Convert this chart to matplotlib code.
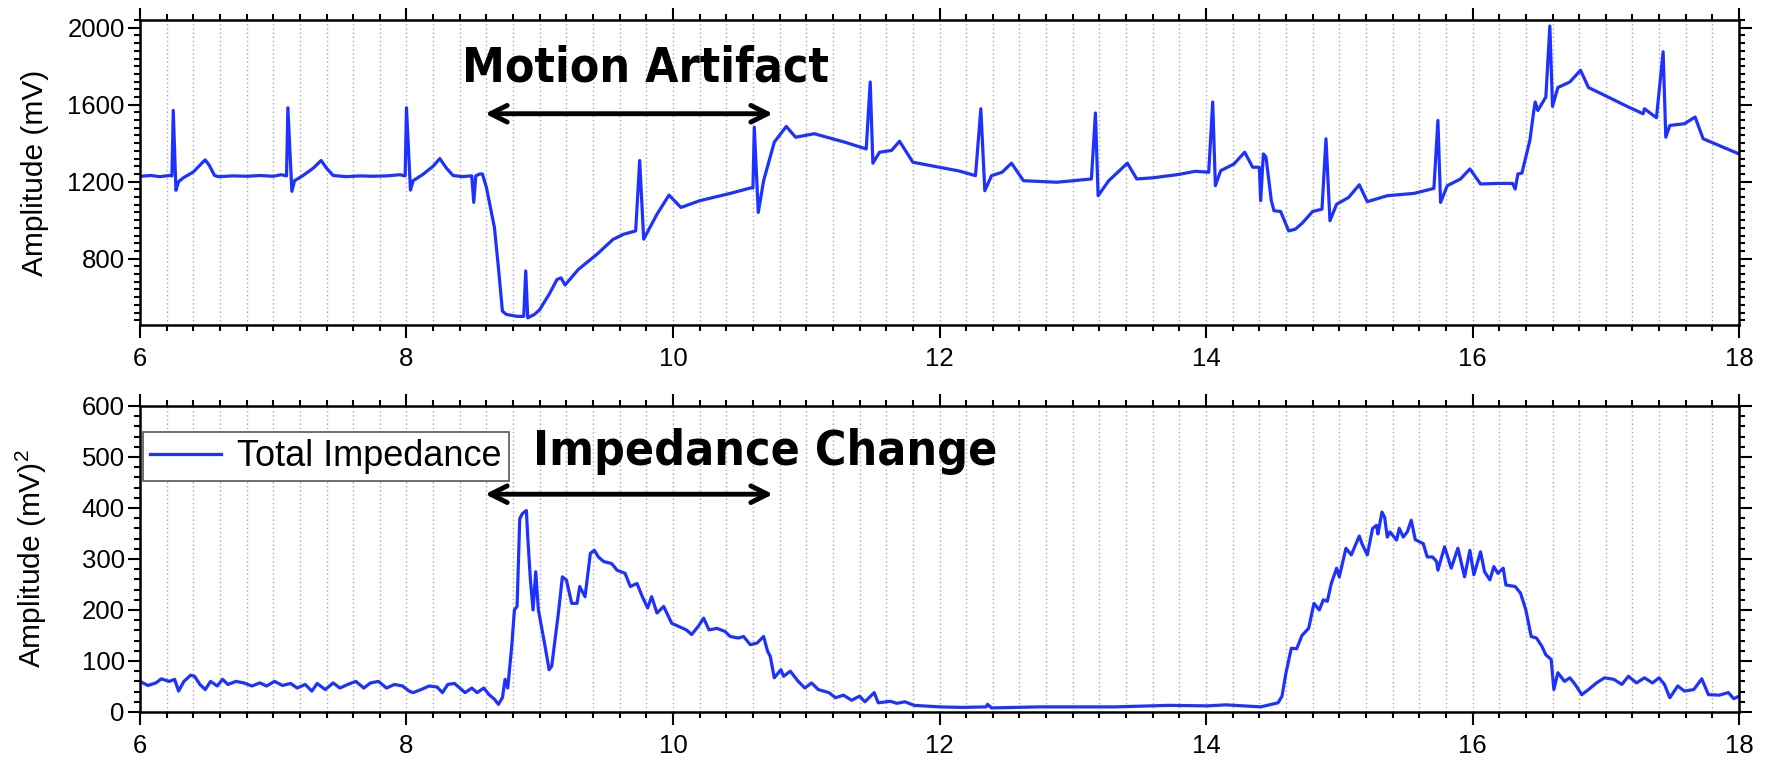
import matplotlib
matplotlib.use("Agg")
import matplotlib.pyplot as plt
from matplotlib.ticker import MultipleLocator

plt.rcParams['font.family'] = ['Liberation Sans', 'DejaVu Sans']

# ECG amplitude (mV) vs time (s)
ecg_t = [6.00, 6.08, 6.15, 6.22, 6.24, 6.25, 6.27, 6.29, 6.33, 6.40, 6.47, 6.49, 6.52, 6.56, 6.59,
         6.70, 6.80, 6.90, 7.00, 7.06, 7.10, 7.11, 7.14, 7.16, 7.22, 7.30, 7.36, 7.40, 7.45,
         7.55, 7.65, 7.75, 7.85, 7.95, 7.99, 8.00, 8.03, 8.05, 8.12, 8.20, 8.25, 8.30, 8.35, 8.42,
         8.48, 8.49, 8.505, 8.52, 8.55, 8.57, 8.60, 8.66, 8.69, 8.72, 8.75, 8.83, 8.88, 8.895, 8.91,
         8.96, 9.00, 9.07, 9.13, 9.16, 9.19, 9.29, 9.43, 9.55, 9.63, 9.72, 9.75, 9.78, 9.88, 9.97,
         10.06, 10.20, 10.43, 10.58, 10.60, 10.61, 10.64, 10.68, 10.76, 10.85, 10.92, 11.06, 11.29,
         11.45, 11.48, 11.50, 11.55, 11.64, 11.70, 11.80, 12.00, 12.15, 12.27, 12.31, 12.34, 12.39,
         12.47, 12.54, 12.63, 12.88, 13.00, 13.14, 13.17, 13.19, 13.27, 13.41, 13.48, 13.60, 13.79,
         13.92, 14.02, 14.05, 14.07, 14.11, 14.21, 14.29, 14.35, 14.40, 14.41, 14.43, 14.45, 14.49,
         14.51, 14.56, 14.62, 14.67, 14.72, 14.80, 14.87, 14.90, 14.93, 14.98, 15.07, 15.15, 15.21,
         15.36, 15.56, 15.71, 15.74, 15.76, 15.81, 15.91, 15.98, 16.06, 16.19, 16.30, 16.32, 16.34,
         16.37, 16.43, 16.46, 16.47, 16.49, 16.55, 16.58, 16.60, 16.64, 16.73, 16.81, 16.87, 16.99,
         17.16, 17.28, 17.29, 17.38, 17.43, 17.45, 17.48, 17.59, 17.67, 17.73, 17.85, 18.00]
ecg_v = [1228, 1232, 1226, 1232, 1230, 1570, 1155, 1200, 1222, 1250, 1300, 1313, 1285, 1232, 1226,
         1230, 1228, 1232, 1228, 1236, 1230, 1584, 1150, 1205, 1230, 1270, 1310, 1270, 1232,
         1226, 1230, 1228, 1230, 1236, 1230, 1584, 1156, 1205, 1236, 1280, 1320, 1270, 1232, 1226,
         1230, 1230, 1092, 1230, 1240, 1240, 1170, 962, 753, 527, 510, 500, 500, 736, 492,
         510, 535, 614, 692, 700, 663, 744, 823, 900, 927, 944, 1310, 901, 1031, 1130,
         1066, 1101, 1139, 1167, 1167, 1483, 1040, 1205, 1405, 1487, 1431, 1449, 1405,
         1370, 1718, 1296, 1353, 1362, 1410, 1301, 1275, 1255, 1231, 1579, 1153, 1231,
         1249, 1296, 1205, 1197, 1205, 1214, 1557, 1127, 1205, 1296, 1214, 1220, 1237,
         1254, 1249, 1614, 1179, 1257, 1292, 1353, 1275, 1275, 1101, 1344, 1327, 1101,
         1049, 1045, 944, 953, 983, 1045, 1057, 1423, 997, 1083, 1118, 1184, 1096,
         1127, 1139, 1165, 1518, 1092, 1179, 1214, 1266, 1188, 1191, 1191, 1162, 1240,
         1244, 1414, 1570, 1614, 1570, 1640, 2009, 1591, 1689, 1718, 1779, 1689, 1649,
         1591, 1553, 1579, 1532, 1875, 1431, 1492, 1501, 1536, 1423, 1388, 1344]

# total impedance amplitude (mV^2) vs time (s)
imp_t = [6.00, 6.06, 6.12, 6.16, 6.22, 6.26, 6.29, 6.33, 6.38, 6.41, 6.45, 6.49, 6.53, 6.58, 6.62,
         6.66, 6.72, 6.78, 6.84, 6.90, 6.95, 7.01, 7.07, 7.13, 7.18, 7.24, 7.29, 7.33, 7.39, 7.45,
         7.50, 7.56, 7.62, 7.68, 7.73, 7.79, 7.85, 7.91, 7.97, 8.02, 8.05, 8.11, 8.17, 8.23, 8.27,
         8.31, 8.36, 8.40, 8.44, 8.49, 8.53, 8.58, 8.62, 8.66, 8.69, 8.72, 8.74, 8.76, 8.79, 8.81,
         8.83, 8.85, 8.87, 8.90, 8.91, 8.93, 8.95, 8.97, 8.99, 9.04, 9.07, 9.09, 9.14, 9.17, 9.20,
         9.24, 9.28, 9.30, 9.34, 9.38, 9.41, 9.44, 9.48, 9.54, 9.58, 9.64, 9.68, 9.73, 9.77, 9.81,
         9.84, 9.88, 9.93, 9.99, 10.04, 10.10, 10.14, 10.19, 10.23, 10.27, 10.33, 10.39, 10.43,
         10.49, 10.53, 10.58, 10.63, 10.68, 10.71, 10.73, 10.76, 10.81, 10.83, 10.88, 10.94, 10.99,
         11.04, 11.09, 11.17, 11.22, 11.28, 11.34, 11.40, 11.44, 11.51, 11.54, 11.63, 11.68, 11.74,
         11.81, 12.00, 12.17, 12.35, 12.36, 12.39, 12.75, 13.04, 13.32, 13.72, 14.01, 14.15, 14.41,
         14.54, 14.57, 14.60, 14.64, 14.68, 14.72, 14.77, 14.81, 14.85, 14.88, 14.91, 14.94, 14.98,
         15.00, 15.05, 15.09, 15.15, 15.17, 15.21, 15.25, 15.28, 15.29, 15.32, 15.34, 15.36, 15.38,
         15.43, 15.45, 15.48, 15.51, 15.54, 15.57, 15.63, 15.66, 15.70, 15.73, 15.74, 15.79, 15.84,
         15.89, 15.94, 15.98, 16.01, 16.06, 16.09, 16.13, 16.16, 16.19, 16.23, 16.25, 16.32, 16.36,
         16.40, 16.44, 16.48, 16.52, 16.55, 16.59, 16.61, 16.64, 16.69, 16.73, 16.77, 16.82, 16.87,
         16.93, 16.99, 17.06, 17.12, 17.17, 17.23, 17.29, 17.35, 17.40, 17.44, 17.48, 17.54, 17.59,
         17.66, 17.72, 17.77, 17.85, 17.92, 17.96, 18.00]
imp_v = [60, 52, 57, 65, 60, 64, 41, 60, 72, 70, 54, 44, 60, 51, 64,
         54, 60, 57, 51, 57, 51, 60, 52, 56, 47, 54, 41, 56, 44, 57,
         47, 54, 60, 47, 57, 60, 47, 54, 51, 41, 38, 44, 51, 49, 38,
         54, 56, 47, 38, 47, 38, 47, 34, 25, 15, 28, 64, 47, 129, 200,
         207, 379, 389, 395, 343, 259, 200, 275, 200, 129, 83, 90, 194, 265, 259,
         213, 213, 246, 226, 311, 317, 304, 295, 291, 278, 272, 246, 252, 226, 204,
         226, 194, 207, 174, 168, 161, 152, 168, 184, 161, 164, 158, 148,
         145, 148, 132, 135, 148, 119, 109, 67, 83, 70, 80, 60, 47,
         57, 44, 38, 28, 33, 23, 31, 20, 38, 18, 21, 17, 20,
         13, 10, 9, 10, 15, 8, 10, 10, 10, 13, 12, 14, 10,
         18, 31, 77, 125, 124, 150, 164, 213, 200, 220, 217, 252, 282,
         265, 321, 308, 345, 330, 308, 360, 366, 349, 392, 382, 343, 353,
         337, 360, 343, 353, 376, 338, 330, 304, 304, 295, 278, 324, 282,
         321, 265, 317, 269, 314, 275, 259, 285, 272, 282, 249, 246, 233,
         200, 148, 145, 129, 112, 103, 44, 77, 60, 67, 54, 34, 44,
         57, 67, 64, 54, 70, 57, 67, 57, 67, 54, 28, 51, 41,
         44, 65, 34, 33, 38, 26, 31]

x_range = (6, 18)
x_ticks = [6, 8, 10, 12, 14, 16, 18]
line_color = '#1e32ff'

fig = plt.figure(figsize=(17.67, 7.61), dpi=100)
ax1 = fig.add_axes([0.0792, 0.5729, 0.9050, 0.4008])
ax2 = fig.add_axes([0.0792, 0.0644, 0.9050, 0.4021])


def style_axis(ax, ymajor, yminor):
    ax.set_xlim(*x_range)
    ax.set_xticks(x_ticks)
    ax.xaxis.set_minor_locator(MultipleLocator(0.2))
    ax.yaxis.set_major_locator(MultipleLocator(ymajor))
    ax.yaxis.set_minor_locator(MultipleLocator(yminor))
    ax.tick_params(which='both', direction='out', top=True, right=True,
                   labeltop=False, labelright=False, width=1.5, color='black')
    ax.tick_params(which='major', length=9, labelsize=18.5)
    ax.tick_params(which='minor', length=4.5)
    ax.tick_params(axis='x', which='major', pad=7)
    ax.tick_params(axis='y', which='major', pad=2)
    ax.grid(which='both', axis='x', color='#a8a8a8', linestyle=(0, (1, 2)), linewidth=1)
    ax.set_axisbelow(True)
    for s in ax.spines.values():
        s.set_linewidth(1.8)
    ax.yaxis.set_label_coords(-0.057, 0.5)


arrow_style = dict(arrowstyle='<->', lw=3.5, color='black',
                   mutation_scale=30, shrinkA=0, shrinkB=0)
note_font = dict(fontsize=34.5, fontweight='bold', family='DejaVu Sans',
                 fontstretch='condensed', ha='left', va='center')

# ECG panel
ax1.plot(ecg_t, ecg_v, color=line_color, lw=2.3)
style_axis(ax1, 400, 40)
ax1.set_ylim(455, 2040)
ax1.set_ylabel('Amplitude (mV)', fontsize=21.5)
ax1.annotate('', xy=(8.59, 1553), xytext=(10.75, 1553), arrowprops=arrow_style)
ax1.text(8.42, 1790, 'Motion Artifact', **note_font)

# impedance panel
ax2.plot(imp_t, imp_v, color=line_color, lw=2.3, label='Total Impedance')
style_axis(ax2, 100, 20)
ax2.set_ylim(0, 600)
ax2.set_ylabel('Amplitude (mV)$^\\mathregular{2}$', fontsize=21.5)
ax2.annotate('', xy=(8.59, 427), xytext=(10.75, 427), arrowprops=arrow_style)
ax2.text(8.95, 510, 'Impedance Change', **note_font)
leg = ax2.legend(loc='upper left', bbox_to_anchor=(0.002, 0.915), borderaxespad=0,
                 fontsize=26, frameon=True, fancybox=False, framealpha=1,
                 handlelength=1.95, handletextpad=0.45, borderpad=0.2)
leg.get_frame().set_edgecolor('#555555')
leg.get_frame().set_linewidth(1.2)

fig.savefig('out.png', dpi=100)
